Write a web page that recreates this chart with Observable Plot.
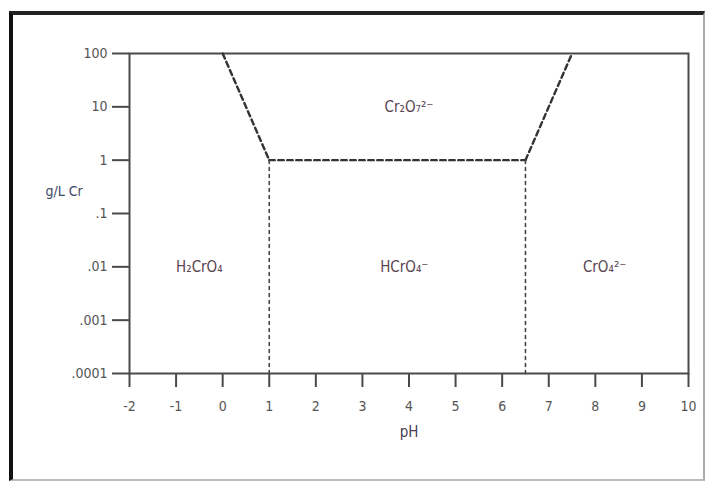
<!DOCTYPE html>
<html>
<head>
<meta charset="utf-8">
<script src="https://cdn.jsdelivr.net/npm/d3@7"></script>
<script src="https://cdn.jsdelivr.net/npm/@observablehq/plot@0.6"></script>
<style>
  html, body { margin: 0; padding: 0; background: #fff; }
  #wrap { position: relative; width: 705px; height: 481px; overflow: hidden; }
  #border { position: absolute; left: 9px; top: 11px; width: 690px; height: 464px;
            border-left: 4px solid #111; border-top: 4px solid #222;
            border-right: 2px solid #aaa; border-bottom: 2px solid #bbb; pointer-events: none; }
  #wrap svg text { font-stretch: condensed; }
</style>
</head>
<body>
<div id="wrap"><div id="border"></div></div>
<script>
// ---- data ----
const phTicks = [-2, -1, 0, 1, 2, 3, 4, 5, 6, 7, 8, 9, 10];
const concTicks = [0.0001, 0.001, 0.01, 0.1, 1, 10, 100];
const concTickLabels = [".0001", ".001", ".01", ".1", "1", "10", "100"];

// boundary lines (pH, g/L Cr)
const leftDiagPH = [0, 1];
const leftDiagConc = [100, 1];
const plateauPH = [1, 6.5];
const plateauConc = [1, 1];
const rightDiagPH = [6.5, 7.5];
const rightDiagConc = [1, 100];
const leftVertPH = [1, 1];
const leftVertConc = [0.0001, 1];
const rightVertPH = [6.5, 6.5];
const rightVertConc = [0.0001, 1];

// species labels
const speciesNames = ["Cr\u2082O\u2087\u00B2\u207B", "H\u2082CrO\u2084", "HCrO\u2084\u207B", "CrO\u2084\u00B2\u207B"];
const speciesPH = [4.0, -0.5, 3.9, 8.2];
const speciesConc = [10, 0.01, 0.01, 0.01];

const xLabel = "pH";
const yLabel = "g/L Cr";

// ---- build ----
const toPts = (xs, ys) => xs.map((x, i) => ({x, y: ys[i]}));
const heavy = [
  toPts(leftDiagPH, leftDiagConc),
  toPts(plateauPH, plateauConc),
  toPts(rightDiagPH, rightDiagConc)
];
const light = [toPts(leftVertPH, leftVertConc), toPts(rightVertPH, rightVertConc)];
const species = speciesNames.map((name, i) => ({name, x: speciesPH[i], y: speciesConc[i]}));

const font = "'DejaVu Sans Condensed', 'DejaVu Sans', sans-serif";
const axisColor = "#4a4a4a";

const chart = Plot.plot({
  width: 705,
  height: 481,
  marginLeft: 129,
  marginRight: 17,
  marginTop: 53,
  marginBottom: 108,
  style: {fontFamily: font, fontSize: "14px", color: axisColor, background: "transparent"},
  x: {domain: [-2, 10]},
  y: {type: "log", domain: [0.0001, 100]},
  marks: [
    Plot.frame({stroke: axisColor, strokeWidth: 2}),
    Plot.axisX({ticks: phTicks, tickSize: 14, tickPadding: 14, stroke: axisColor, strokeWidth: 2,
                tickFormat: d => d < 0 ? "-" + Math.abs(d) : String(d), label: null, fill: "#555", fontSize: 14}),
    Plot.axisY({ticks: concTicks, tickSize: 17, tickPadding: 5, stroke: axisColor, strokeWidth: 2,
                tickFormat: d => concTickLabels[concTicks.indexOf(d)], label: null, fill: "#555", fontSize: 14}),
    ...heavy.map(seg => Plot.line(seg, {x: "x", y: "y", stroke: "#333", strokeWidth: 2.4, strokeDasharray: "5.5,3.5"})),
    ...light.map(seg => Plot.line(seg, {x: "x", y: "y", stroke: "#444", strokeWidth: 1.6, strokeDasharray: "3,4"})),
    Plot.text(species, {x: "x", y: "y", text: "name", fill: "#5a4552", fontSize: 15}),
    Plot.text([xLabel], {frameAnchor: "bottom", dy: 63, fill: "#4a3d55", fontSize: 15}),
    Plot.text([yLabel], {frameAnchor: "left", dx: -84, dy: -22, fill: "#3d4a66", fontSize: 14})
  ]
});
document.getElementById("wrap").prepend(chart);
</script>
</body>
</html>
